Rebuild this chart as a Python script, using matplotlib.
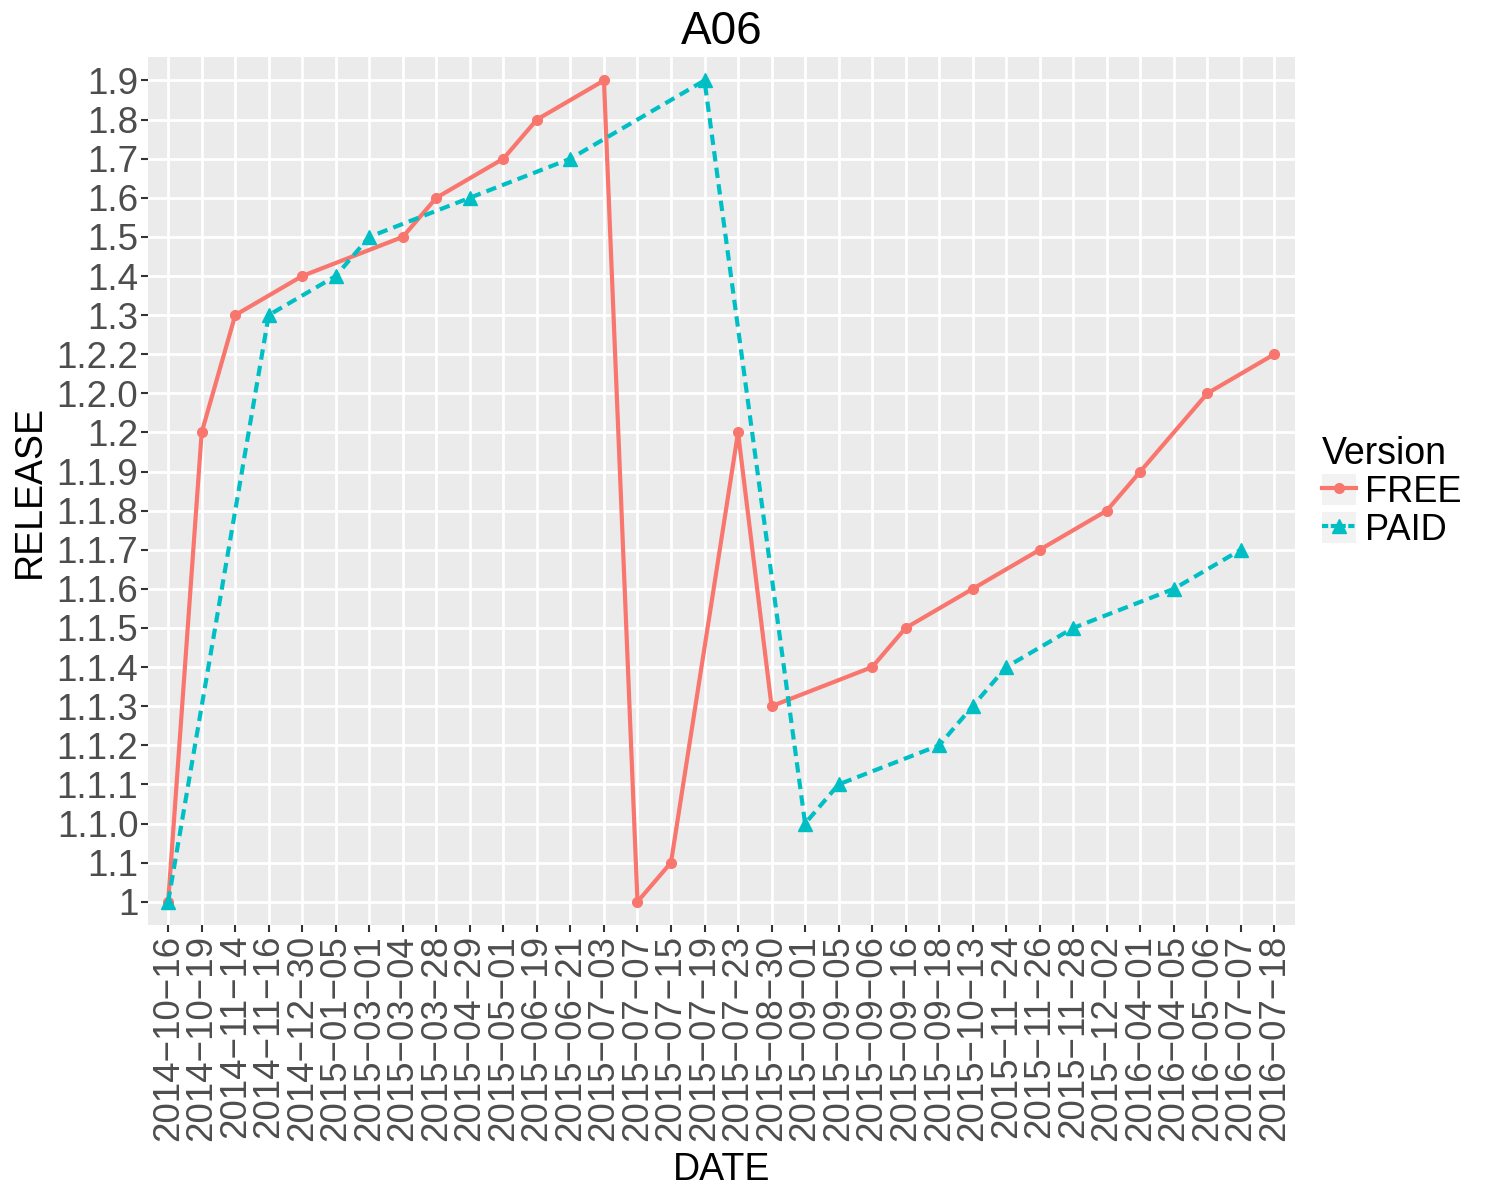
import matplotlib
matplotlib.use("Agg")
import matplotlib.pyplot as plt
from matplotlib.lines import Line2D
from matplotlib.patches import Rectangle
from matplotlib.legend_handler import HandlerLine2D

plt.rcParams['font.family'] = ['Liberation Sans', 'DejaVu Sans']

# categorical axes, in display order
dates = ["2014-10-16", "2014-10-19", "2014-11-14", "2014-11-16", "2014-12-30",
         "2015-01-05", "2015-03-01", "2015-03-04", "2015-03-28", "2015-04-29",
         "2015-05-01", "2015-06-19", "2015-06-21", "2015-07-03", "2015-07-07",
         "2015-07-15", "2015-07-19", "2015-07-23", "2015-08-30", "2015-09-01",
         "2015-09-05", "2015-09-06", "2015-09-16", "2015-09-18", "2015-10-13",
         "2015-11-24", "2015-11-26", "2015-11-28", "2015-12-02", "2016-04-01",
         "2016-04-05", "2016-05-06", "2016-07-07", "2016-07-18"]
releases = ["1", "1.1", "1.1.0", "1.1.1", "1.1.2", "1.1.3", "1.1.4", "1.1.5",
            "1.1.6", "1.1.7", "1.1.8", "1.1.9", "1.2", "1.2.0", "1.2.2",
            "1.3", "1.4", "1.5", "1.6", "1.7", "1.8", "1.9"]

free_dates = ["2014-10-16", "2014-10-19", "2014-11-14", "2014-12-30", "2015-03-04",
              "2015-03-28", "2015-05-01", "2015-06-19", "2015-07-03", "2015-07-07",
              "2015-07-15", "2015-07-23", "2015-08-30", "2015-09-06", "2015-09-16",
              "2015-10-13", "2015-11-26", "2015-12-02", "2016-04-01", "2016-05-06",
              "2016-07-18"]
free_rel = ["1", "1.2", "1.3", "1.4", "1.5", "1.6", "1.7", "1.8", "1.9", "1",
            "1.1", "1.2", "1.1.3", "1.1.4", "1.1.5", "1.1.6", "1.1.7", "1.1.8",
            "1.1.9", "1.2.0", "1.2.2"]

paid_dates = ["2014-10-16", "2014-11-16", "2015-01-05", "2015-03-01", "2015-04-29",
              "2015-06-21", "2015-07-19", "2015-09-01", "2015-09-05", "2015-09-18",
              "2015-10-13", "2015-11-24", "2015-11-28", "2016-04-05", "2016-07-07"]
paid_rel = ["1", "1.3", "1.4", "1.5", "1.6", "1.7", "1.9", "1.1.0", "1.1.1",
            "1.1.2", "1.1.3", "1.1.4", "1.1.5", "1.1.6", "1.1.7"]

FREE_COL = "#F8766D"
PAID_COL = "#00BFC4"
LW = 3.0
DASH = (0, (2.5, 1.5))


def to_idx(vals, cats):
    return [cats.index(v) + 1 for v in vals]


class KeyHandler(HandlerLine2D):
    # ggplot style legend key: grey square behind the line
    def create_artists(self, legend, orig_handle, xdescent, ydescent,
                       width, height, fontsize, trans):
        arts = super().create_artists(legend, orig_handle, xdescent, ydescent,
                                      width, height, fontsize, trans)
        bg = Rectangle((-xdescent, -ydescent), width, height, transform=trans,
                       facecolor="#F2F2F2", edgecolor="none", zorder=-1)
        return [bg] + arts


fig = plt.figure(figsize=(15, 12), dpi=100)
ax = fig.add_axes([0.0987, 0.229, 0.7643, 0.7235])
ax.set_facecolor("#EBEBEB")

ax.plot(to_idx(free_dates, dates), to_idx(free_rel, releases), color=FREE_COL,
        lw=LW, marker="o", ms=7, zorder=3)
ax.plot(to_idx(paid_dates, dates), to_idx(paid_rel, releases), color=PAID_COL,
        lw=LW, ls=DASH, marker="^", ms=9.5, zorder=3)

ax.set_xlim(0.4, len(dates) + 0.6)
ax.set_ylim(0.4, len(releases) + 0.6)
ax.set_xticks(range(1, len(dates) + 1))
ax.set_xticklabels([d.replace("-", "\u2212") for d in dates], rotation=90,
                   fontsize=26.5, color="#4D4D4D")
ax.set_yticks(range(1, len(releases) + 1))
ax.set_yticklabels(releases, fontsize=26.5, color="#4D4D4D")
ax.tick_params(length=5, width=1.5, color="#333333", pad=2)
ax.grid(True, color="white", lw=2.0)
ax.set_axisbelow(True)
for s in ax.spines.values():
    s.set_visible(False)

ax.set_title("A06", fontsize=33, pad=9)
ax.set_xlabel("DATE", fontsize=27, labelpad=8)
ax.set_ylabel("RELEASE", fontsize=27, labelpad=6)

handles = [Line2D([], [], color=FREE_COL, lw=LW, marker="o", ms=7),
           Line2D([], [], color=PAID_COL, lw=LW, ls=(0, (1.5, 0.6)), marker="^", ms=9.5)]
leg = fig.legend(handles, ["FREE", "PAID"], title="Version", loc="center left",
                 bbox_to_anchor=(0.869, 0.59), fontsize=26, title_fontsize=27,
                 frameon=False, handlelength=0.95, handleheight=0.95,
                 handletextpad=0.25, labelspacing=0.05, borderpad=0,
                 handler_map={Line2D: KeyHandler()})
leg._legend_box.align = "left"

fig.savefig("out.png", dpi=100)
